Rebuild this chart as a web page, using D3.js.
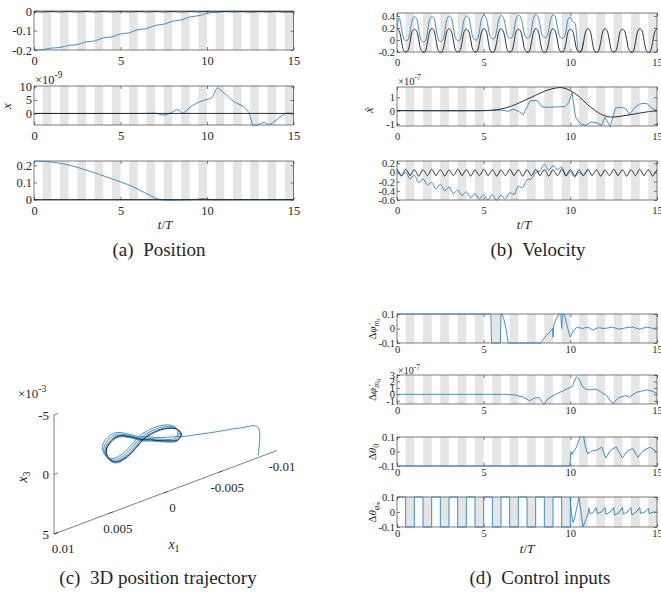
<!DOCTYPE html>
<html>
<head>
<meta charset="utf-8">
<script src="https://cdn.jsdelivr.net/npm/d3@7"></script>
<style>
body { margin: 0; background: #fff; }
svg text { font-family: "Liberation Serif", "Tinos", "Times New Roman", "DejaVu Serif", serif; fill: #262626; }
</style>
</head>
<body>
<svg id="fig" width="661" height="602" font-family="Liberation Serif, DejaVu Serif, serif"></svg>
<script>
// ---------- shared ----------
const stripeStarts = [0.5, 1.5, 2.5, 3.5, 4.5, 5.5, 6.5, 7.5, 8.5, 9.5, 10.5, 11.5, 12.5, 13.5, 14.5];
const timeTicks = [0, 5, 10, 15];

// ---------- (a) position ----------
// sampled every 0.5 T
const a1Blue = [-0.200, -0.198, -0.190, -0.187, -0.176, -0.172, -0.158, -0.153, -0.137, -0.132,
  -0.116, -0.111, -0.094, -0.089, -0.072, -0.066, -0.050, -0.044, -0.028, -0.022,
  -0.010, -0.002, 0.000, 0.001, 0.000, -0.001, 0.000, 0.001, 0.000, -0.001, 0.000];
const a1Black = [0, -0.002, 0, -0.002, 0, -0.002, 0, -0.002, 0, -0.002, 0, -0.002, 0, -0.002, 0, -0.002,
  0, -0.002, 0, -0.002, 0, -0.002, 0, -0.002, 0, -0.002, 0, -0.002, 0, -0.002, 0];
// [t/T, value x 1e-9]
const a2Blue = [[0, 0], [6.5, 0], [7.0, 0.1], [7.5, -0.6], [7.9, 0.2], [8.3, 1.4], [8.6, 0.1], [9.0, 2.2],
  [9.4, 3.8], [9.7, 4.6], [10.0, 5.2], [10.3, 6.0], [10.6, 9.5], [10.9, 8.0], [11.3, 5.8], [11.6, 4.2],
  [12.1, 2.6], [12.4, 0.5], [12.7, -4.5], [13.0, -4.0], [13.3, -3.4], [13.6, -4.1], [14.0, -2.5],
  [14.55, 0], [15, 0]];
const a2Black = [[0, 0], [15, 0]];
const a3Blue = [[0, 0.223], [0.5, 0.223], [1, 0.219], [1.9, 0.204], [3.06, 0.171], [3.8, 0.146], [5, 0.103],
  [5.75, 0.074], [6.5, 0.035], [7.1, 0.006], [7.5, -0.002], [8.6, -0.002], [9.4, 0.002], [9.8, 0.006],
  [10.3, 0.0], [11, 0.0], [15, 0.0]];
const a3Black = [[0, 0], [15, 0]];

// ---------- (b) velocity ----------
// sampled every 0.125 T
const b1Black = [
  0.19, 0.15, 0.00, -0.17, -0.20, -0.18, -0.04, 0.14,
  0.18, 0.15, 0.01, -0.16, -0.20, -0.19, -0.05, 0.13,
  0.19, 0.16, 0.00, -0.17, -0.21, -0.18, -0.04, 0.14,
  0.19, 0.15, 0.00, -0.17, -0.20, -0.18, -0.04, 0.14,
  0.18, 0.15, 0.01, -0.16, -0.20, -0.19, -0.05, 0.13,
  0.19, 0.16, 0.00, -0.17, -0.21, -0.18, -0.04, 0.14,
  0.19, 0.15, 0.00, -0.17, -0.20, -0.18, -0.04, 0.14,
  0.18, 0.15, 0.01, -0.16, -0.20, -0.19, -0.05, 0.13,
  0.19, 0.16, 0.00, -0.17, -0.21, -0.18, -0.04, 0.14,
  0.19, 0.15, 0.00, -0.17, -0.20, -0.18, -0.04, 0.14,
  0.18, 0.15, 0.01, -0.16, -0.20, -0.19, -0.05, 0.13,
  0.19, 0.16, 0.00, -0.17, -0.21, -0.18, -0.04, 0.14,
  0.19, 0.15, 0.00, -0.17, -0.20, -0.18, -0.04, 0.14,
  0.18, 0.15, 0.01, -0.16, -0.20, -0.19, -0.05, 0.13,
  0.19, 0.16, 0.00, -0.17, -0.21, -0.18, -0.04, 0.14,
  0.19];
const b1Blue = [
  0.20, 0.37, 0.21, 0.03, -0.01, 0.00, 0.12, 0.33,
  0.39, 0.36, 0.19, 0.01, -0.03, -0.02, 0.11, 0.33,
  0.39, 0.37, 0.20, 0.02, -0.03, -0.01, 0.12, 0.34,
  0.40, 0.37, 0.21, 0.03, -0.01, 0.00, 0.13, 0.34,
  0.40, 0.38, 0.22, 0.05, 0.00, 0.01, 0.14, 0.35,
  0.41, 0.38, 0.23, 0.06, 0.02, 0.03, 0.15, 0.35,
  0.41, 0.38, 0.24, 0.07, 0.03, 0.04, 0.15, 0.36,
  0.41, 0.39, 0.24, 0.08, 0.03, 0.04, 0.16, 0.36,
  0.42, 0.39, 0.24, 0.08, 0.04, 0.05, 0.16, 0.36,
  0.42, 0.39, 0.23, 0.07, 0.03, 0.04, 0.15, 0.35,
  0.38, 0.31, 0.29, 0.05, -0.20, -0.18, -0.04];
// [t/T, value x 1e-7]
const b2Black = [[0, 0], [5, 0], [5.5, 0.04], [6, 0.12], [6.5, 0.3], [7, 0.55], [7.5, 0.85], [8, 1.15],
  [8.5, 1.45], [9, 1.65], [9.5, 1.72], [10, 1.5], [10.5, 1.05], [11, 0.45], [11.5, -0.05], [12, -0.4],
  [12.5, -0.48], [13, -0.4], [13.5, -0.3], [14, -0.18], [14.5, -0.08], [15, 0.0]];
const b2Blue = [[0, 0], [5.3, 0], [6, 0.05], [6.4, -0.05], [6.7, 0.1], [7.0, -0.05], [7.3, -0.3], [7.5, 0.3],
  [7.7, 0.75], [8.1, 0.75], [8.35, 0.3], [8.6, 0.25], [9.7, 0.3], [9.9, 0.6], [10.1, 1.35], [10.3, -0.5],
  [10.6, -1.0], [10.9, -1.1], [11.2, -0.85], [11.5, -0.9], [11.8, -1.1], [12.0, -0.5], [12.3, -1.2],
  [12.6, 0.2], [12.9, 0.25], [13.2, 0.15], [13.4, -0.3], [13.7, 0.2], [14.0, 0.5], [14.4, 0.55],
  [14.7, 0.2], [15, 0.0]];
// sampled every 0.125 T
const b3Black = [
  0.06, 0.00, -0.07, -0.01, 0.07, 0.01, -0.07, 0.00, 0.06, 0.00, -0.08, -0.01,
  0.06, 0.00, -0.07, -0.01, 0.07, 0.01, -0.07, 0.00, 0.06, 0.00, -0.08, -0.01,
  0.06, 0.00, -0.07, -0.01, 0.07, 0.01, -0.07, 0.00, 0.06, 0.00, -0.08, -0.01,
  0.06, 0.00, -0.07, -0.01, 0.07, 0.01, -0.07, 0.00, 0.06, 0.00, -0.08, -0.01,
  0.06, 0.00, -0.07, -0.01, 0.07, 0.01, -0.07, 0.00, 0.06, 0.00, -0.08, -0.01,
  0.06, 0.00, -0.07, -0.01, 0.07, 0.01, -0.07, 0.00, 0.06, 0.00, -0.08, -0.01,
  0.06, 0.00, -0.07, -0.01, 0.07, 0.01, -0.07, 0.00, 0.06, 0.00, -0.08, -0.01,
  0.06, 0.00, -0.07, -0.01, 0.07, 0.01, -0.07, 0.00, 0.06, 0.00, -0.08, -0.01,
  0.06, 0.00, -0.07, -0.01, 0.07, 0.01, -0.07, 0.00, 0.06, 0.00, -0.08, -0.01,
  0.06, 0.00, -0.07, -0.01, 0.07, 0.01, -0.07, 0.00, 0.06, 0.00, -0.08, -0.01,
  0.06];
// sampled every 0.25 T
const b3Blue = [0.08, -0.08, 0.00, -0.14, -0.06, -0.22, -0.14, -0.27, -0.22, -0.36, -0.26, -0.40,
  -0.32, -0.46, -0.38, -0.50, -0.42, -0.55, -0.46, -0.58, -0.48, -0.60, -0.48, -0.61,
  -0.49, -0.58, -0.44, -0.48, -0.30, -0.33, -0.16, -0.14, 0.00, 0.03, 0.18, 0.05,
  0.15, 0.06, 0.12, -0.08, 0.02, -0.10, 0.00, -0.06, 0.05];

// ---------- (c) 3D trajectory, values x 1e-3 ----------
const refX1 = [1.93, 2.94, 4.04, 4.77, 5.23, 4.95, 4.31, 3.39, 2.48, 1.93, 1.10, -0.09, -1.19, -1.65, -1.28, -0.09, 1.10, 1.93];
const refX3 = [-0.12, -0.71, -1.18, -1.01, -0.42, 0.44, 0.91, 0.81, 0.28, -0.12, -0.34, -0.35, 0.03, 0.61, 0.99, 0.66, 0.17, -0.12];
const trajX1 = [-8.62, -8.62, -6.97, -4.68, -2.84, -1.74,
  -0.93, 0.26, 1.45, 2.28, 3.29, 4.39, 5.12, 5.58, 5.30, 4.66, 3.74, 2.83, 2.28, 1.45, 0.26, -0.84, -1.30,
  -1.06, 0.13, 1.32, 2.15, 3.16, 4.26, 4.99, 5.45, 5.17, 4.53, 3.61, 2.70, 2.15, 1.32, 0.13, -0.97, -1.43,
  -1.18, 0.01, 1.20, 2.03, 3.04, 4.14, 4.87, 5.33, 5.05, 4.41, 3.49, 2.58, 2.03, 1.20, 0.01, -1.09, -1.55,
  -1.28, -0.09, 1.10, 1.93, 2.94, 4.04, 4.77, 5.23, 4.95, 4.31, 3.39, 2.48, 1.93];
const trajX3 = [4.87, 2.43, 1.94, 1.49, 1.10, 0.85,
  0.59, 0.26, -0.23, -0.52, -1.11, -1.58, -1.41, -0.82, 0.04, 0.51, 0.41, -0.12, -0.52, -0.74, -0.75, -0.37, 0.21,
  0.77, 0.44, -0.05, -0.34, -0.93, -1.40, -1.23, -0.64, 0.22, 0.69, 0.59, 0.06, -0.34, -0.56, -0.57, -0.19, 0.39,
  0.91, 0.58, 0.09, -0.20, -0.79, -1.26, -1.09, -0.50, 0.36, 0.83, 0.73, 0.20, -0.20, -0.42, -0.43, -0.05, 0.53,
  1.07, 0.74, 0.25, -0.04, -0.63, -1.10, -0.93, -0.34, 0.52, 0.99, 0.89, 0.36, -0.04];
const x1Ticks = [0.01, 0.005, 0, -0.005, -0.01];
const x3Ticks = [-5, 0, 5];

// ---------- (d) control inputs ----------
const d1Blue = [[0, 0.1], [5.42, 0.1], [5.45, -0.1], [5.96, -0.1], [6.0, 0.1], [6.06, 0.1], [6.15, 0.07],
  [6.25, 0.02], [6.35, -0.05], [6.42, -0.1], [8.3, -0.1], [8.6, -0.05], [8.85, -0.02], [8.98, 0.0],
  [9.0, -0.06], [9.04, 0.02], [9.2, 0.07], [9.35, 0.1], [9.45, 0.1], [9.5, 0.0], [9.55, 0.1], [9.65, 0.1],
  [9.85, 0.0], [10.0, -0.06], [10.2, -0.01], [10.4, 0.01], [10.7, 0.0], [11.0, 0.01], [11.3, -0.01],
  [11.6, 0.005], [12.0, 0.0], [12.4, 0.01], [12.8, -0.005], [13.2, 0.005], [13.6, 0.01], [14.0, -0.005],
  [14.4, 0.01], [14.8, 0.0], [15, 0.005]];
const d2Blue = [[0, 0], [6.2, 0], [6.8, -0.1], [7.3, -0.45], [7.65, -1.0], [7.9, -0.6], [8.2, -0.5],
  [8.46, -1.6], [8.7, -0.7], [9.0, -0.2], [9.3, 0.2], [9.6, 0.55], [9.85, 0.9], [10.1, 1.2], [10.35, 2.7],
  [10.5, 2.4], [10.7, 1.2], [10.9, 0.8], [11.1, 0.7], [11.5, 0.8], [11.8, 0.3], [12.1, -0.2], [12.45, -1.5],
  [12.7, -0.7], [12.9, -0.4], [13.2, -0.2], [13.4, -0.45], [13.8, 0.3], [14.1, 0.5], [14.4, 0.7],
  [14.7, 0.5], [15, 0.15]];
const d3Blue = [[0, -0.1], [9.97, -0.1], [10.03, 0.0], [10.1, -0.02], [10.35, 0.03], [10.5, 0.08],
  [10.6, 0.12], [10.75, 0.12], [10.85, 0.04], [11.0, -0.015], [11.3, 0.007], [11.55, 0.01], [11.8, 0.03],
  [12.05, -0.045], [12.3, 0.007], [12.65, 0.03], [13.0, -0.045], [13.3, 0.005], [13.6, 0.02],
  [13.9, -0.04], [14.2, 0.005], [14.6, 0.03], [15, -0.005]];
// saturated input, one value every 0.5 T up to t/T = 10
const d4Square = [0.1, -0.1, 0.1, -0.1, 0.1, -0.1, 0.1, -0.1, 0.1, -0.1, 0.1, -0.1, 0.1, -0.1,
  0.1, -0.1, 0.1, -0.1, 0.1, -0.1, 0.1];
const d4Tail = [[10, 0.1], [10.06, -0.01], [10.15, -0.07], [10.25, -0.04], [10.5, 0.1], [10.73, -0.1],
  [10.9, -0.05], [11.0, -0.02], [11.07, 0.025], [11.12, -0.01], [11.3, -0.005], [11.5, 0.03], [11.55, -0.01],
  [11.8, 0.0], [12.0, 0.03], [12.05, -0.015], [12.3, 0.0], [12.5, 0.03], [12.55, -0.02], [12.8, -0.005],
  [13.0, 0.03], [13.05, -0.015], [13.3, 0.0], [13.5, 0.03], [13.55, -0.02], [13.8, 0.0], [14.0, 0.03],
  [14.05, -0.01], [14.3, 0.0], [14.5, 0.025], [14.55, -0.01], [14.8, 0.0], [15, 0.0]];

// ---------- drawing ----------
const BLUE = '#2a83c6';
const BLACK = '#1a1a1a';
const SERIF = '"Liberation Serif", "DejaVu Serif", serif';
const svg = d3.select('#fig');
const defs = svg.append('defs');
let clipCount = 0;

const onGrid = (vals, dt) => vals.map((v, i) => [i * dt, v]);

function timePlot(o) {
  const x = d3.scaleLinear().domain([0, 15]).range([o.left, o.right]);
  const y = d3.scaleLinear().domain(o.yDomain).range([o.bottom, o.top]);
  const h = o.bottom - o.top;
  const g = svg.append('g');

  g.selectAll('rect.stripe').data(stripeStarts).join('rect')
    .attr('class', 'stripe')
    .attr('x', d => x(d)).attr('y', o.top)
    .attr('width', d => x(d + 0.5) - x(d)).attr('height', h)
    .attr('fill', '#e5e5e5');

  const fmt = d => String(d);
  const bottomAx = g.append('g').attr('transform', `translate(0,${o.bottom})`)
    .call(d3.axisBottom(x).tickValues(timeTicks).tickSize(-3).tickSizeOuter(0).tickPadding(o.xPad).tickFormat(fmt));
  g.append('g').attr('transform', `translate(0,${o.top})`)
    .call(d3.axisTop(x).tickValues(timeTicks).tickSize(-3).tickSizeOuter(0).tickFormat(''));
  const leftAx = g.append('g').attr('transform', `translate(${o.left},0)`)
    .call(d3.axisLeft(y).tickValues(o.yTicks).tickSize(-3).tickSizeOuter(0).tickPadding(2).tickFormat(fmt));
  g.append('g').attr('transform', `translate(${o.right},0)`)
    .call(d3.axisRight(y).tickValues(o.yTicks).tickSize(-3).tickSizeOuter(0).tickFormat(''));
  g.selectAll('.domain').remove();
  g.selectAll('.tick line').attr('stroke', '#262626').attr('stroke-width', 0.6);
  g.selectAll('g').attr('font-family', SERIF);
  bottomAx.selectAll('text').style('font-size', o.fontSize + 'px').style('font-family', SERIF);
  leftAx.selectAll('text').style('font-size', o.fontSize + 'px').style('font-family', SERIF);

  g.append('rect')
    .attr('x', o.left).attr('y', o.top).attr('width', o.right - o.left).attr('height', h)
    .attr('fill', 'none').attr('stroke', '#262626').attr('stroke-width', 0.6);

  const id = 'clip' + (clipCount++);
  defs.append('clipPath').attr('id', id).append('rect')
    .attr('x', o.left).attr('y', o.top - 1).attr('width', o.right - o.left).attr('height', h + 2);
  const lines = g.append('g').attr('clip-path', `url(#${id})`);
  o.series.forEach(s => {
    const line = d3.line().x(d => x(d[0])).y(d => y(d[1])).curve(s.curve || d3.curveLinear);
    lines.append('path').datum(s.data)
      .attr('d', line)
      .attr('fill', 'none')
      .attr('stroke', s.color)
      .attr('stroke-width', s.width || 0.9);
  });
}

// rich text: parts = [text, dy, size, italic]
function richText(x, y, parts, size, opts) {
  opts = opts || {};
  const t = svg.append('text')
    .attr('transform', `translate(${x},${y})` + (opts.rotate ? ' rotate(-90)' : ''))
    .attr('text-anchor', opts.anchor || 'middle')
    .style('font-family', SERIF)
    .style('font-size', size + 'px');
  parts.forEach(p => {
    t.append('tspan').text(p[0])
      .attr('dy', p[1] || 0)
      .style('font-size', (p[2] || size) + 'px')
      .style('font-style', p[3] ? 'italic' : 'normal');
  });
  return t;
}

const exponent = (x, y, e, size) => richText(x, y, [['\u00d710'], [e, -size * 0.45, size * 0.75]], size, { anchor: 'start' });
const catmull = d3.curveCatmullRom;

// (a) Position
const aL = 34, aR = 293.5;
timePlot({ left: aL, right: aR, top: 11, bottom: 50, yDomain: [-0.2, 0.003], yTicks: [-0.2, -0.1, 0], fontSize: 12.5, xPad: 6,
  series: [{ data: onGrid(a1Blue, 0.5), color: BLUE, curve: catmull }, { data: onGrid(a1Black, 0.5), color: BLACK, curve: catmull }] });
timePlot({ left: aL, right: aR, top: 86, bottom: 125, yDomain: [-4.3, 10.2], yTicks: [0, 5, 10], fontSize: 12.5, xPad: 6,
  series: [{ data: a2Blue, color: BLUE, curve: catmull }, { data: a2Black, color: BLACK }] });
timePlot({ left: aL, right: aR, top: 161, bottom: 200, yDomain: [-0.002, 0.225], yTicks: [0, 0.1, 0.2], fontSize: 12.5, xPad: 6,
  series: [{ data: a3Blue, color: BLUE, curve: catmull }, { data: a3Black, color: BLACK }] });
exponent(35, 84, '-9', 12.5);
richText(11, 106, [['x', 0, 13, true]], 13, { rotate: true });
richText(165, 229, [['t', 0, 13, true], ['/'], ['T', 0, 13, true]], 13);
richText(159, 256, [['(a)'], ['\u2002Position']], 19);

// (b) Velocity
const bL = 397, bR = 657;
timePlot({ left: bL, right: bR, top: 13, bottom: 52, yDomain: [-0.2, 0.45], yTicks: [-0.2, 0, 0.2, 0.4], fontSize: 10.5, xPad: 7,
  series: [{ data: onGrid(b1Blue, 0.125), color: BLUE, curve: catmull }, { data: onGrid(b1Black, 0.125), color: BLACK, curve: catmull }] });
timePlot({ left: bL, right: bR, top: 87, bottom: 126, yDomain: [-1.15, 1.77], yTicks: [-1, 0, 1], fontSize: 10.5, xPad: 7,
  series: [{ data: b2Blue, color: BLUE }, { data: b2Black, color: BLACK, curve: catmull }] });
timePlot({ left: bL, right: bR, top: 161, bottom: 200, yDomain: [-0.6, 0.25], yTicks: [-0.6, -0.4, -0.2, 0, 0.2], fontSize: 10.5, xPad: 7,
  series: [{ data: onGrid(b3Blue, 0.25), color: BLUE, curve: catmull }, { data: onGrid(b3Black, 0.125), color: BLACK, curve: catmull }] });
exponent(398, 85, '-7', 10.5);
richText(373, 110, [['\u1e8b', 0, 13, true]], 13, { rotate: true });
richText(524, 229, [['t', 0, 13, true], ['/'], ['T', 0, 13, true]], 13);
richText(538, 256, [['(b)'], ['\u2002Velocity']], 19);

// (c) 3D position trajectory
const px = d3.scaleLinear().domain([0.01, -0.01]).range([54, 273]);
const pShift = d3.scaleLinear().domain([0.01, -0.01]).range([0, -82]);
const pz = d3.scaleLinear().domain([-0.005, 0.005]).range([415, 534]);
const proj = (a, b) => [px(a), pz(b) + pShift(a)];
const gc = svg.append('g');
const axisLine = d3.line();
gc.append('path').attr('d', axisLine([proj(0.01, -0.005), proj(0.01, 0.005)]))
  .attr('stroke', '#262626').attr('stroke-width', 0.6).attr('fill', 'none');
gc.append('path').attr('d', axisLine([proj(0.01, 0.005), proj(-0.01, 0.005)]))
  .attr('stroke', '#262626').attr('stroke-width', 0.6).attr('fill', 'none');
x1Ticks.forEach(v => {
  const p = proj(v, 0.005);
  gc.append('line').attr('x1', p[0]).attr('y1', p[1]).attr('x2', p[0] + 4).attr('y2', p[1] - 1.5)
    .attr('stroke', '#262626').attr('stroke-width', 0.6);
  gc.append('text').attr('x', p[0] + 9).attr('y', p[1] + 19).attr('text-anchor', 'middle')
    .style('font-family', SERIF).style('font-size', '13px').text(String(v));
});
x3Ticks.forEach(v => {
  const p = proj(0.01, v * 1e-3);
  gc.append('line').attr('x1', p[0]).attr('y1', p[1]).attr('x2', p[0] + 4).attr('y2', p[1] - 1.5)
    .attr('stroke', '#262626').attr('stroke-width', 0.6);
  gc.append('text').attr('x', p[0] - 5).attr('y', p[1] + 4.5).attr('text-anchor', 'end')
    .style('font-family', SERIF).style('font-size', '13px').text(String(v));
});
exponent(18, 398, '-3', 13);
richText(27, 477, [['x', 0, 14, true], ['3', 3, 10]], 14, { rotate: true });
richText(174, 549, [['x', 0, 14, true], ['1', 3, 10]], 14);
const trajLine = d3.line().curve(d3.curveCatmullRom);
gc.append('path')
  .attr('d', trajLine(trajX1.map((v, i) => proj(v * 1e-3, trajX3[i] * 1e-3))))
  .attr('fill', 'none').attr('stroke', BLUE).attr('stroke-width', 0.9);
gc.append('path')
  .attr('d', trajLine(refX1.map((v, i) => proj(v * 1e-3, refX3[i] * 1e-3))))
  .attr('fill', 'none').attr('stroke', BLACK).attr('stroke-width', 0.9);
richText(158, 584, [['(c)'], ['\u20023D position trajectory']], 19);

// (d) Control inputs
const dL = 397, dR = 657;
timePlot({ left: dL, right: dR, top: 314, bottom: 343, yDomain: [-0.1, 0.1], yTicks: [-0.1, 0, 0.1], fontSize: 10.5, xPad: 3,
  series: [{ data: d1Blue, color: BLUE }] });
timePlot({ left: dL, right: dR, top: 375, bottom: 404, yDomain: [-1.5, 3], yTicks: [-1, 0, 1, 2, 3], fontSize: 10.5, xPad: 3,
  series: [{ data: d2Blue, color: BLUE }] });
timePlot({ left: dL, right: dR, top: 437, bottom: 466, yDomain: [-0.1, 0.1], yTicks: [-0.1, 0, 0.1], fontSize: 10.5, xPad: 3,
  series: [{ data: d3Blue, color: BLUE }] });
timePlot({ left: dL, right: dR, top: 497, bottom: 527, yDomain: [-0.1, 0.1], yTicks: [-0.1, 0, 0.1], fontSize: 10.5, xPad: 3,
  series: [{ data: onGrid(d4Square, 0.5), color: BLUE, curve: d3.curveStepAfter }, { data: d4Tail, color: BLUE }] });
exponent(398, 374, '-7', 10);
richText(376, 329, [['\u0394'], ['\u03c6\u0307', 0, 11, true], ['m', 2.5, 8, true], ['s', 1.5, 6, true]], 11, { rotate: true });
richText(376, 390, [['\u0394'], ['\u03c6\u0307', 0, 11, true], ['m', 2.5, 8, true], ['q', 1.5, 6, true]], 11, { rotate: true });
richText(376, 452, [['\u0394'], ['\u03b8', 0, 11, true], ['0', 2.5, 8]], 11, { rotate: true });
richText(376, 512, [['\u0394'], ['\u03b8', 0, 11, true], ['\u03c6\u0307', 2.5, 8, true], ['m', 1.5, 6, true]], 11, { rotate: true });
richText(527, 553, [['t', 0, 13, true], ['/'], ['T', 0, 13, true]], 13);
richText(540, 584, [['(d)'], ['\u2002Control inputs']], 19);
</script>
</body>
</html>
